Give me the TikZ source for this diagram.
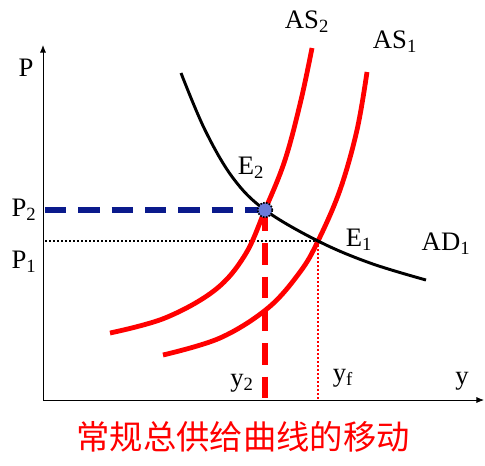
\documentclass[tikz,border=0pt]{standalone}
\usepackage{fontspec}
\setmainfont{Liberation Serif}
\newfontfamily\cjk{Noto Sans CJK SC}
\usetikzlibrary{arrows.meta, calc}
\definecolor{ink}{HTML}{000000}
\definecolor{shift}{HTML}{FF0000}
\definecolor{price}{HTML}{0A1A8C}
\definecolor{dot}{HTML}{6A7BD8}
\tikzset{
  every node/.style = {text=ink, font=\fontsize{20}{22}\selectfont, inner sep=1pt},
  gaxis/.style  = {-{Latex[length=2mm,width=1.6mm]}, draw=ink, line width=0.6pt},
  gad/.style    = {draw=ink, line width=2.2pt},
  gas/.style    = {draw=shift, line width=3.6pt},
  gp2/.style    = {draw=price, line width=3.8pt, dash pattern=on 16pt off 9pt},
  gp1/.style    = {draw=ink, line width=1.5pt, dash pattern=on 1.5pt off 1.5pt},
  gy2/.style    = {draw=shift, line width=3.8pt, dash pattern=on 16pt off 9pt},
  gyf/.style    = {draw=shift, line width=1.5pt, dash pattern=on 1.5pt off 1.5pt},
  gpt/.style    = {circle, draw=ink, densely dotted, line width=1.2pt, fill=dot,
                   minimum size=11pt, inner sep=0pt},
  gcap/.style   = {font=\cjk\fontsize{25}{27}\selectfont, text=shift},
}

\begin{document}
\begin{tikzpicture}[x=0.75pt, y=-0.75pt]
\useasboundingbox (0,0) rectangle (485,465);

\coordinate (O) at (43,400);
\coordinate (ytop) at (43,45);
\coordinate (xend) at (484,400);
\coordinate (e2) at (265,210);
\coordinate (e1) at (318,241);
\coordinate (p2) at (45,210);
\coordinate (p1) at (45,241);
\coordinate (y2) at (265,400);
\coordinate (yf) at (318,400);

% axes
\draw[gaxis] (O) -- (ytop);
\draw[gaxis] (O) -- (xend);

% guide lines
\draw[gp2] (p2) -- (e2);
\draw[gp1] (p1) -- (e1);
\draw[gy2] (e2) -- (y2);
\draw[gyf] (e1) -- (yf);

% AS curves
\draw[gas] plot[smooth, tension=0.6] coordinates
  {(110,333) (165,318) (215,290) (245,255) (e2) (285,160) (301,100) (312,48)};
\draw[gas] plot[smooth, tension=0.6] coordinates
  {(163,355) (220,338) (268,308) (300,272) (e1) (340,190) (357,130) (367,72)};

% AD curve
\draw[gad] plot[smooth, tension=0.6] coordinates
  {(181,73) (205,130) (233,178) (e2) (e1) (370,263) (426,280)};

\node[gpt] (ptE2) at (e2) {};

% labels
\node (lP)   at (26,68)  {P};
\node (lP2)  at (24,210) {P\textsubscript{2}};
\node (lP1)  at (24,262) {P\textsubscript{1}};
\node (ly2)  at (242,383) {y\textsubscript{2}};
\node (lyf)  at (343,378) {y\textsubscript{f}};
\node (ly)   at (462,381) {y};
\node (lAS2) at (307,22) {AS\textsubscript{2}};
\node (lAS1) at (395,42) {AS\textsubscript{1}};
\node (lE2)  at (251,168) {E\textsubscript{2}};
\node (lE1)  at (359,240) {E\textsubscript{1}};
\node (lAD1) at (446,244) {AD\textsubscript{1}};
\node[gcap] (cap) at (243,437) {常规总供给曲线的移动};
\end{tikzpicture}
\end{document}
